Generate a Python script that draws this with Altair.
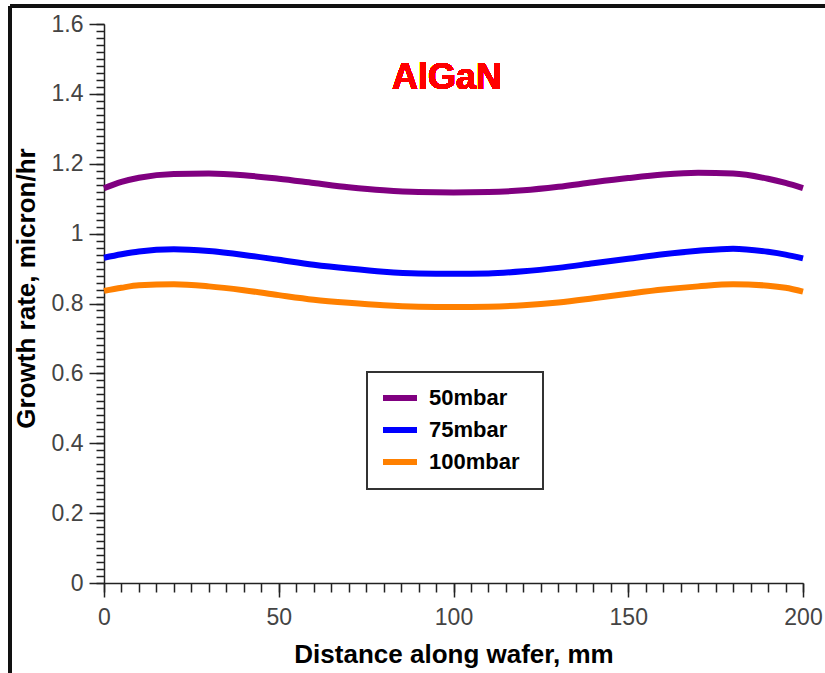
import altair as alt
import pandas as pd

# distance along wafer, mm
x_mm = [0, 5, 10, 20, 30, 40, 50, 60, 70, 80, 90, 100, 110, 120, 130, 140, 150, 160, 170, 180, 190, 195, 200]
# growth rate, micron/hr
rate_50 = [1.130, 1.148, 1.160, 1.171, 1.172, 1.167, 1.157, 1.145, 1.133, 1.124, 1.119, 1.118, 1.119,
           1.124, 1.134, 1.147, 1.159, 1.169, 1.174, 1.172, 1.157, 1.145, 1.130]
rate_75 = [0.931, 0.941, 0.949, 0.955, 0.950, 0.939, 0.925, 0.911, 0.900, 0.891, 0.886, 0.885, 0.886,
           0.892, 0.902, 0.915, 0.928, 0.941, 0.951, 0.957, 0.948, 0.940, 0.929]
rate_100 = [0.836, 0.845, 0.852, 0.855, 0.849, 0.838, 0.824, 0.811, 0.802, 0.795, 0.791, 0.790, 0.791,
            0.795, 0.803, 0.815, 0.828, 0.840, 0.849, 0.855, 0.851, 0.845, 0.834]

series_names = ["50mbar", "75mbar", "100mbar"]
series_colors = ["#800080", "#0000FF", "#FF8000"]

x_major = [0, 50, 100, 150, 200]
x_minor = list(range(0, 201, 5))
y_major = [0, 0.2, 0.4, 0.6, 0.8, 1.0, 1.2, 1.4, 1.6]
y_minor = [round(i * 0.02, 2) for i in range(0, 81)]

rows = []
for name, vals in zip(series_names, [rate_50, rate_75, rate_100]):
    for xv, yv in zip(x_mm, vals):
        rows.append({"x": xv, "y": yv, "series": name})
df = pd.DataFrame(rows)

W, H = 699, 559
LEFT, TOP = 104, 24

xscale = alt.Scale(domain=[0, 200], nice=False, zero=False)
yscale = alt.Scale(domain=[0, 1.6], nice=False)

axis_common = dict(
    grid=False,
    domainColor="#222",
    domainWidth=1.5,
    tickColor="#222",
    tickWidth=1.5,
    labelFont="Liberation Sans",
    labelFontSize=23,
    labelColor="#444",
    labelFlush=False,
    titleFont="Liberation Sans",
    titleFontSize=26,
    titleFontWeight="bold",
    titleColor="#000",
)

lines = alt.Chart(df).mark_line(strokeWidth=6, interpolate="monotone").encode(
    x=alt.X("x:Q", scale=xscale, axis=alt.Axis(
        values=x_major, orient="bottom", tickSize=14, labelPadding=9,
        title="Distance along wafer, mm", titleY=79, titleBaseline="alphabetic",
        **axis_common)),
    y=alt.Y("y:Q", scale=yscale, axis=alt.Axis(
        values=y_major, orient="left", tickSize=15, labelPadding=6, format="~g",
        title="Growth rate, micron/hr", titleX=-78, titleY=264, titleAngle=-90,
        titleAlign="center", titleBaseline="middle", **axis_common)),
    color=alt.Color("series:N", scale=alt.Scale(domain=series_names, range=series_colors),
                    legend=alt.Legend(
                        title="", orient="none", legendX=269, legendY=347,
                        padding=7, symbolType="stroke", symbolStrokeWidth=6,
                        symbolSize=1156, labelFont="Liberation Sans", labelFontSize=22,
                        labelFontWeight="bold", labelColor="#000", labelOffset=9,
                        rowPadding=0)),
)

minor = alt.Chart(df).mark_point(opacity=0).encode(
    x=alt.X("x:Q", scale=xscale, axis=alt.Axis(
        values=x_minor, orient="bottom", tickSize=9, labels=False, domain=False,
        grid=False, title="", tickColor="#222", tickWidth=1.5)),
    y=alt.Y("y:Q", scale=yscale, axis=alt.Axis(
        values=y_minor, orient="left", tickSize=8, labels=False, domain=False,
        grid=False, title="", tickColor="#222", tickWidth=1.5)),
)

# decorations: figure frame, legend box, title
frame_top = alt.Chart(df).mark_rule(color="#111", strokeWidth=3).encode(
    x=alt.value(10 - LEFT), x2=alt.value(830 - LEFT), y=alt.value(6 - TOP))
frame_left = alt.Chart(df).mark_rule(color="#111", strokeWidth=2.5).encode(
    x=alt.value(10 - LEFT), y=alt.value(6 - TOP), y2=alt.value(680 - TOP))
legend_box = alt.Chart(df).mark_rect(fillOpacity=0, stroke="#333", strokeWidth=2).encode(
    x=alt.value(367 - LEFT), x2=alt.value(543 - LEFT),
    y=alt.value(372 - TOP), y2=alt.value(489 - TOP))
title = alt.Chart(df).mark_text(
    text="AlGaN", color="#FF0000", font="Liberation Sans", fontSize=36, fontWeight="bold",
    align="center", baseline="middle").encode(
    x=alt.value(447 - LEFT), y=alt.value(78 - TOP))

chart = alt.layer(frame_top, frame_left, legend_box, lines, minor, title).resolve_axis(
    x="independent", y="independent"
).properties(
    width=W, height=H,
    autosize=alt.AutoSizeParams(type="none"),
    padding={"left": LEFT, "top": TOP, "right": 825 - LEFT - W, "bottom": 673 - TOP - H},
    background="white",
).configure_view(strokeWidth=0)

chart.save("out.html", embed_options={"renderer": "svg", "actions": False})
